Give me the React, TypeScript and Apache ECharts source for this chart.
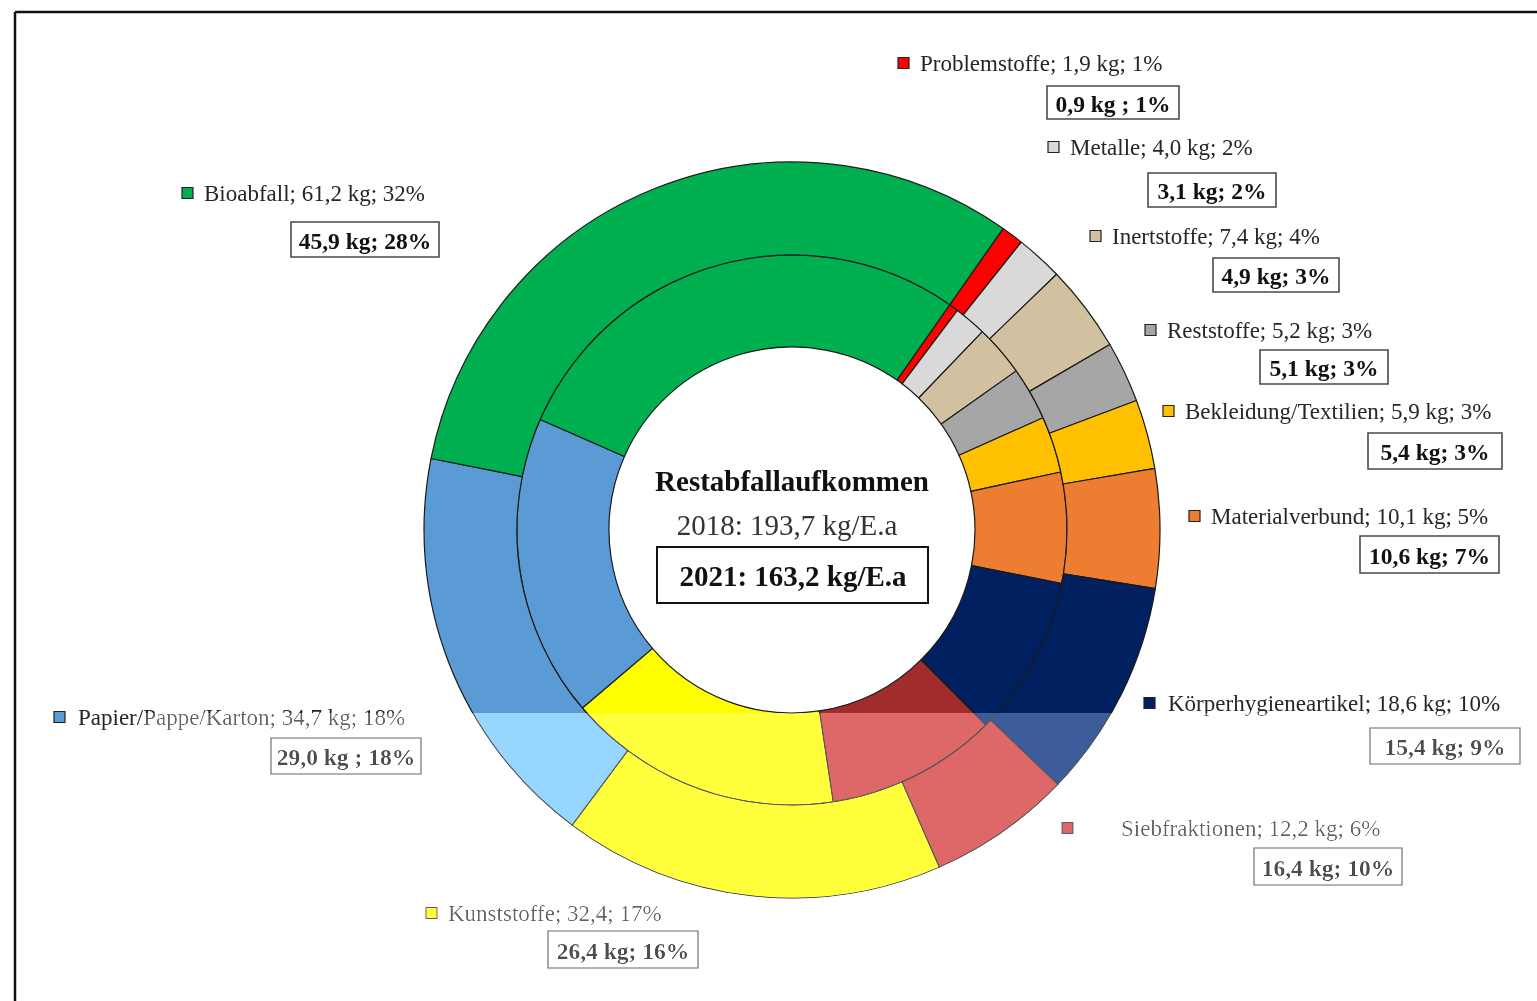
import React, { useEffect, useRef } from "react";
import * as echarts from "echarts";

// ---- data ----
const categories = [
  "Problemstoffe",
  "Metalle",
  "Inertstoffe",
  "Reststoffe",
  "Bekleidung/Textilien",
  "Materialverbund",
  "Körperhygieneartikel",
  "Siebfraktionen",
  "Kunststoffe",
  "Papier/Pappe/Karton",
  "Bioabfall",
];
const values2018 = [1.9, 4.0, 7.4, 5.2, 5.9, 10.1, 18.6, 12.2, 32.4, 34.7, 61.2];
const percent2018 = [1, 2, 4, 3, 3, 5, 10, 6, 17, 18, 32];
const values2021 = [0.9, 3.1, 4.9, 5.1, 5.4, 10.6, 15.4, 16.4, 26.4, 29.0, 45.9];
const percent2021 = [1, 2, 3, 3, 3, 7, 9, 10, 16, 18, 28];
const unit2018 = [" kg", " kg", " kg", " kg", " kg", " kg", " kg", " kg", "", " kg", " kg"];
const sep2021 = [" ; ", "; ", "; ", "; ", "; ", "; ", "; ", "; ", "; ", " ; ", "; "];
const centerTitle = "Restabfallaufkommen";
const total2018Text = "2018: 193,7 kg/E.a";
const total2021Text = "2021: 163,2 kg/E.a";

// ---- styles / layout ----
const colors = [
  "#FF0000",
  "#D9D9D9",
  "#D1C1A1",
  "#A6A6A6",
  "#FFC000",
  "#ED7D31",
  "#002060",
  "#A22C2C",
  "#FFFF00",
  "#5B9BD5",
  "#00B050",
];
// legend marker left x, centre y, text start x
const legendMarkerX = [898, 1048, 1090, 1145, 1163, 1189, 1144, 1062, 426, 54, 182];
const legendY = [63, 147, 236, 330, 411, 516, 703, 828, 913, 717, 193];
const legendTextX = [920, 1070, 1112, 1167, 1185, 1211, 1168, 1121, 448, 78, 204];
// boxed 2021 label: left, top, width, height
const boxRects = [
  [1047, 86, 132, 33],
  [1148, 173, 128, 34],
  [1213, 258, 126, 34],
  [1260, 350, 128, 34],
  [1368, 433, 134, 36],
  [1360, 536, 139, 37],
  [1370, 728, 150, 36],
  [1254, 848, 148, 37],
  [548, 931, 150, 37],
  [271, 738, 150, 36],
  [291, 222, 148, 35],
];

const fmt = (v: number) => v.toFixed(1).replace(".", ",");
const FONT = "'Liberation Serif', 'Times New Roman', serif";

export default function App() {
  const ref = useRef<HTMLDivElement>(null);

  useEffect(() => {
    if (!ref.current) return;
    const chart = echarts.init(ref.current, null, { renderer: "svg" });

    const elements: any[] = [];
    // frame
    elements.push({
      type: "line",
      shape: { x1: 15, y1: 12, x2: 1537, y2: 12 },
      style: { stroke: "#111", lineWidth: 2.5 },
    });
    elements.push({
      type: "line",
      shape: { x1: 15, y1: 12, x2: 15, y2: 1001 },
      style: { stroke: "#111", lineWidth: 2.5 },
    });

    categories.forEach((name, i) => {
      elements.push({
        type: "rect",
        shape: { x: legendMarkerX[i], y: legendY[i] - 5.5, width: 11, height: 11 },
        style: { fill: colors[i], stroke: "#222", lineWidth: 1.2 },
      });
      elements.push({
        type: "text",
        x: legendTextX[i],
        y: legendY[i],
        style: {
          text: `${name}; ${fmt(values2018[i])}${unit2018[i]}; ${percent2018[i]}%`,
          fontFamily: FONT,
          fontSize: 23,
          fill: "#262626",
          align: "left",
          verticalAlign: "middle",
        },
      });
      const [bx, by, bw, bh] = boxRects[i];
      elements.push({
        type: "rect",
        shape: { x: bx, y: by, width: bw, height: bh },
        style: { fill: "#fff", stroke: "#4a4a4a", lineWidth: 1.6 },
      });
      elements.push({
        type: "text",
        x: bx + bw / 2,
        y: by + bh / 2 + 1,
        style: {
          text: `${fmt(values2021[i])} kg${sep2021[i]}${percent2021[i]}%`,
          fontFamily: FONT,
          fontSize: 23.5,
          fontWeight: "bold",
          fill: "#111",
          align: "center",
          verticalAlign: "middle",
        },
      });
    });

    // centre texts
    elements.push({
      type: "text",
      x: 792,
      y: 481,
      style: {
        text: centerTitle,
        fontFamily: FONT,
        fontSize: 29,
        fontWeight: "bold",
        fill: "#111",
        align: "center",
        verticalAlign: "middle",
      },
    });
    elements.push({
      type: "text",
      x: 787,
      y: 525,
      style: {
        text: total2018Text,
        fontFamily: FONT,
        fontSize: 29,
        fill: "#333",
        align: "center",
        verticalAlign: "middle",
      },
    });
    elements.push({
      type: "rect",
      shape: { x: 657, y: 547, width: 271, height: 56 },
      style: { fill: "none", stroke: "#111", lineWidth: 2 },
    });
    elements.push({
      type: "text",
      x: 793,
      y: 576,
      style: {
        text: total2021Text,
        fontFamily: FONT,
        fontSize: 29,
        fontWeight: "bold",
        fill: "#111",
        align: "center",
        verticalAlign: "middle",
      },
    });

    const ringCommon = {
      type: "pie",
      center: [792, 530],
      startAngle: 55,
      clockwise: true,
      avoidLabelOverlap: false,
      silent: true,
      label: { show: false },
      labelLine: { show: false },
      emphasis: { disabled: true },
      itemStyle: { borderColor: "#1a1a1a", borderWidth: 1.2 },
    };

    chart.setOption({
      animation: false,
      backgroundColor: "#ffffff",
      series: [
        {
          ...ringCommon,
          name: "2021",
          radius: [183, 275],
          data: categories.map((n, i) => ({
            name: n,
            value: values2021[i],
            itemStyle: { color: colors[i] },
          })),
        },
        {
          ...ringCommon,
          name: "2018",
          radius: [275, 368],
          data: categories.map((n, i) => ({
            name: n,
            value: values2018[i],
            itemStyle: { color: colors[i] },
          })),
        },
      ],
      graphic: { elements },
    });

    return () => chart.dispose();
  }, []);

  return (
    <>
      <div
        ref={ref}
        style={{ position: "fixed", left: 0, top: 0, width: 1537, height: 1001 }}
      />
      <div
        style={{
          position: "fixed",
          left: 145,
          top: 713,
          width: 1392,
          height: 288,
          background: "rgb(60,60,60)",
          mixBlendMode: "plus-lighter" as any,
          pointerEvents: "none",
        }}
      />
    </>
  );
}
